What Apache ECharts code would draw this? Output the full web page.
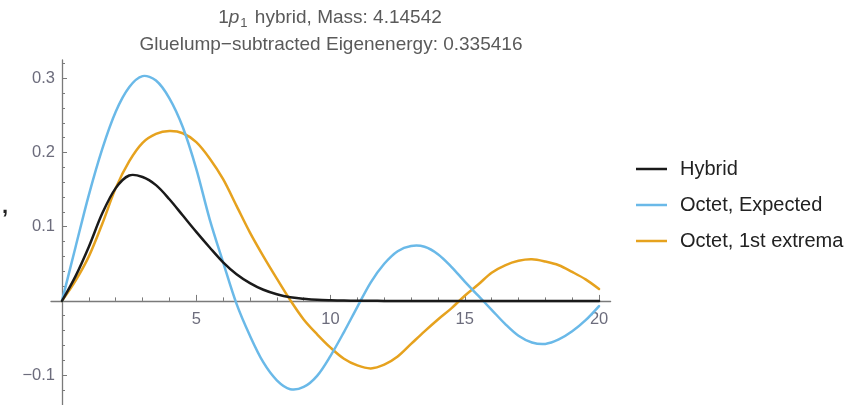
<!DOCTYPE html>
<html>
<head>
<meta charset="utf-8">
<script src="https://cdn.jsdelivr.net/npm/echarts@6/dist/echarts.min.js"></script>
<style>
  html, body { margin: 0; padding: 0; background: #fff; }
  #chart { width: 848px; height: 405px; }
</style>
</head>
<body>
<div id="chart"></div>
<script>
// Radial coordinate grid (shared by all curves)
const rValues = [0, 0.5, 1, 1.5, 2, 2.5, 3, 3.5, 4, 4.5, 5, 5.5, 6, 6.5, 7, 7.5, 8, 8.5, 9, 9.5,
  10, 10.5, 11, 11.5, 12, 12.5, 13, 13.5, 14, 14.5, 15, 15.5, 16, 16.5, 17, 17.5, 18, 18.5, 19, 19.5, 20];

// Hybrid wavefunction
const hybrid = [0, 0.033, 0.073, 0.118, 0.152, 0.169, 0.167, 0.156, 0.137, 0.115, 0.093, 0.072, 0.052,
  0.036, 0.024, 0.015, 0.009, 0.005, 0.003, 0.0015, 0.0008, 0.0004, 0.0002, 0.0001, 0, 0, 0, 0, 0, 0,
  0, 0, 0, 0, 0, 0, 0, 0, 0, 0, 0];

// Octet wavefunction at the expected energy
const octetExpected = [0, 0.072, 0.143, 0.205, 0.255, 0.288, 0.303, 0.297, 0.273, 0.234, 0.178, 0.110,
  0.052, -0.004, -0.047, -0.083, -0.107, -0.119, -0.116, -0.101, -0.074, -0.042, -0.008, 0.025, 0.050,
  0.067, 0.074, 0.073, 0.063, 0.046, 0.026, 0.007, -0.012, -0.031, -0.047, -0.056, -0.058, -0.052,
  -0.041, -0.026, -0.007];

// Octet wavefunction matched at the first extremum
const octetFirstExtrema = [0, 0.027, 0.060, 0.104, 0.152, 0.188, 0.213, 0.225, 0.229, 0.226, 0.214,
  0.192, 0.164, 0.128, 0.092, 0.060, 0.030, 0.001, -0.025, -0.045, -0.063, -0.078, -0.087, -0.091,
  -0.086, -0.075, -0.058, -0.041, -0.025, -0.010, 0.007, 0.022, 0.038, 0.048, 0.054, 0.056, 0.053,
  0.048, 0.039, 0.029, 0.016];

const seriesNames = ['Hybrid', 'Octet, Expected', 'Octet, 1st extrema'];
const seriesColors = ['#1a1a1a', '#6ab9e8', '#e6a21e'];

const xMajorTicks = [5, 10, 15, 20];
const xMinorTicks = [1, 2, 3, 4, 6, 7, 8, 9, 11, 12, 13, 14, 16, 17, 18, 19];
const yMajorTicks = [-0.1, 0.1, 0.2, 0.3];
const yMinorTicks = [-0.14, -0.12, -0.08, -0.06, -0.04, -0.02, 0.02, 0.04, 0.06, 0.08,
  0.12, 0.14, 0.16, 0.18, 0.22, 0.24, 0.26, 0.28, 0.32];

const titleLine1 = '1{it|p}{sub|1} hybrid, Mass: 4.14542';
const titleLine2 = 'Gluelump\u2212subtracted Eigenenergy: 0.335416';

const FONT = '"Liberation Sans", Arial, sans-serif';
const AXIS_COLOR = '#7a7a7a';
const LABEL_COLOR = '#6c6c7c';
const TITLE_COLOR = '#5a5a5a';

const dataSets = [hybrid, octetExpected, octetFirstExtrema];
const pairs = ys => rValues.map((x, i) => [x, ys[i]]);

const fmtY = v => {
  const r = Math.round(v * 10) / 10;
  return r < 0 ? '\u2212' + Math.abs(r) : String(r);
};

// Plot frame and value ranges
const GRID = { left: 51, top: 60, width: 559.6, height: 345.5 };
const xRange = { min: -0.41, max: 20.43 };
const yRange = { min: -0.141, max: 0.3247 };

// Axes cross at the origin: shift them from the frame edges onto x = 0 / y = 0
const xAxisShift = -(yRange.min / (yRange.min - yRange.max)) * GRID.height;   // upwards
const yAxisShift = -(-xRange.min / (xRange.max - xRange.min)) * GRID.width;   // rightwards

// Each curve is drawn as one smooth spline through its samples, placed via the axes' scales
function curveRenderer(ys, color) {
  return function (params, api) {
    if (params.dataIndex !== 0) return null;
    const pts = rValues.map((x, i) => api.coord([x, ys[i]]));
    return {
      type: 'polyline',
      silent: true,
      shape: { points: pts, smooth: 0.33 },
      style: { stroke: color, lineWidth: 2.5, fill: null, lineJoin: 'round', lineCap: 'round' }
    };
  };
}

const chart = echarts.init(document.getElementById('chart'), null, { renderer: 'canvas' });

chart.setOption({
  backgroundColor: '#ffffff',
  animation: false,
  textStyle: { fontFamily: FONT },
  grid: { ...GRID, containLabel: false, outerBoundsMode: 'none' },
  graphic: [
    {
      type: 'text',
      style: {
        text: titleLine1, x: 330, y: 18, fontSize: 19, fontFamily: FONT, fill: TITLE_COLOR,
        align: 'center', verticalAlign: 'middle',
        rich: {
          it: { fontStyle: 'italic', fontSize: 19, fontFamily: FONT, fill: TITLE_COLOR },
          sub: { fontSize: 13, fontFamily: FONT, fill: TITLE_COLOR, padding: [10, 2, 0, 1] }
        }
      }
    },
    {
      type: 'text',
      style: {
        text: titleLine2, x: 331, y: 44.5, fontSize: 19, fontFamily: FONT, fill: TITLE_COLOR,
        align: 'center', verticalAlign: 'middle'
      }
    },
    {
      type: 'text',
      style: {
        text: ',', x: 5, y: 207, fontSize: 22, fontWeight: 'bold', fontFamily: FONT, fill: '#222',
        align: 'center', verticalAlign: 'middle'
      }
    }
  ],
  legend: {
    orient: 'vertical', left: 631, top: 154,
    icon: 'rect', itemWidth: 31, itemHeight: 2.5, itemGap: 16,
    data: seriesNames,
    textStyle: { fontSize: 20, color: '#222', fontFamily: FONT, padding: [0, 0, 0, 8] }
  },
  xAxis: [
    {
      type: 'value', ...xRange, position: 'bottom', offset: xAxisShift,
      axisLine: { onZero: false, lineStyle: { color: AXIS_COLOR, width: 1.3 } },
      axisTick: { show: true, inside: true, length: 6, customValues: xMajorTicks, lineStyle: { color: AXIS_COLOR } },
      axisLabel: { customValues: xMajorTicks, fontSize: 16.5, color: LABEL_COLOR, margin: 10, fontFamily: FONT },
      splitLine: { show: false }
    },
    {
      type: 'value', ...xRange, position: 'bottom', offset: xAxisShift,
      axisLine: { show: false, onZero: false },
      axisTick: { show: true, inside: true, length: 3.5, customValues: xMinorTicks, lineStyle: { color: AXIS_COLOR } },
      axisLabel: { show: false },
      splitLine: { show: false }
    }
  ],
  yAxis: [
    {
      type: 'value', ...yRange, position: 'left', offset: yAxisShift,
      axisLine: { show: true, onZero: false, lineStyle: { color: AXIS_COLOR, width: 1.3 } },
      axisTick: { show: true, inside: true, length: 5, customValues: yMajorTicks, lineStyle: { color: AXIS_COLOR } },
      axisLabel: { customValues: yMajorTicks, formatter: fmtY, fontSize: 16.5, color: LABEL_COLOR, margin: 7, fontFamily: FONT },
      splitLine: { show: false }
    },
    {
      type: 'value', ...yRange, position: 'left', offset: yAxisShift,
      axisLine: { show: false, onZero: false },
      axisTick: { show: true, inside: true, length: 3, customValues: yMinorTicks, lineStyle: { color: AXIS_COLOR } },
      axisLabel: { show: false },
      splitLine: { show: false }
    }
  ],
  series: seriesNames.map((name, i) => ({
    name, type: 'custom', xAxisIndex: 0, yAxisIndex: 0,
    coordinateSystem: 'cartesian2d',
    data: pairs(dataSets[i]),
    encode: { x: 0, y: 1 },
    renderItem: curveRenderer(dataSets[i], seriesColors[i]),
    itemStyle: { color: seriesColors[i] },
    clip: false,
    z: 3 - i
  }))
});
</script>
</body>
</html>
